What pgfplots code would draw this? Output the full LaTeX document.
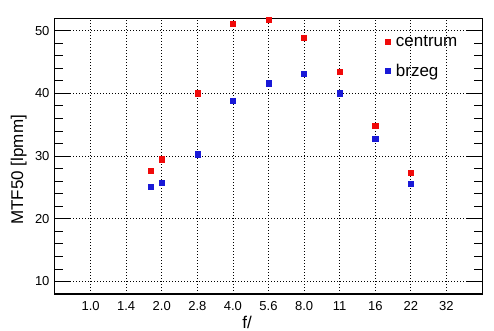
\documentclass[border=0pt]{standalone}
\usepackage{pgfplots}
\pgfplotsset{compat=1.18}
\usepackage{fontspec}
\setmainfont{Liberation Sans}
\definecolor{cred}{RGB}{240,10,10}
\definecolor{cblue}{RGB}{25,25,215}
\begin{document}
\begin{tikzpicture}
\useasboundingbox (-55pt,-37pt) rectangle (439pt,294pt);
\begin{axis}[
  at={(0pt,0pt)}, anchor=south west,
  scale only axis, width=427pt, height=276pt,
  xmin=-1, xmax=11, ymin=8, ymax=52,
  xtick={0,1,2,3,4,5,6,7,8,9,10},
  xticklabels={1.0,1.4,2.0,2.8,4.0,5.6,8.0,11,16,22,32},
  ytick={10,20,30,40,50},
  minor y tick num=4,
  grid=major,
  major grid style={black, dash pattern=on 1pt off 2pt, line width=0.8pt},
  axis line style={line width=1pt},
  major tick length=15pt, minor tick length=8pt,
  tick style={black, line width=0.8pt},
  xtick style={draw=none},
  /pgf/number format/assume math mode=true,
  tick label style={font=\fontsize{13}{15}\selectfont},
  xticklabel style={yshift=-4pt},
  yticklabel style={xshift=-2pt},
  xlabel={f/}, ylabel={MTF50 [lpmm]},
  label style={font=\fontsize{17}{20}\selectfont},
  xlabel style={at={(axis description cs:0.45,-0.104)}, anchor=center},
  ylabel style={at={(axis description cs:-0.085,0.45)}, anchor=center},
  legend style={at={(axis description cs:0.766,0.952)}, anchor=north west,
    draw=none, fill=none, font=\fontsize{17}{20}\selectfont, row sep=12pt,
    /tikz/every odd column/.append style={column sep=4pt}},
  legend cell align=left,
  legend image code/.code={\draw[#1, mark size=2.3pt] plot coordinates {(0pt,0pt)};},
]
\addplot[only marks, mark=square*, mark size=2.6pt, color=cred] coordinates {
 (1.7,27.6) (2,29.5) (3,40.0) (4,51.05) (5,51.7) (6,48.8) (7,43.4) (8,34.8) (9,27.3)};
\addlegendentry{centrum}
\addplot[only marks, mark=square*, mark size=2.6pt, color=cblue] coordinates {
 (1.7,25.05) (2,25.7) (3,30.3) (4,38.8) (5,41.6) (6,43.1) (7,40.0) (8,32.7) (9,25.55)};
\addlegendentry{brzeg}
\end{axis}
\end{tikzpicture}
\end{document}
